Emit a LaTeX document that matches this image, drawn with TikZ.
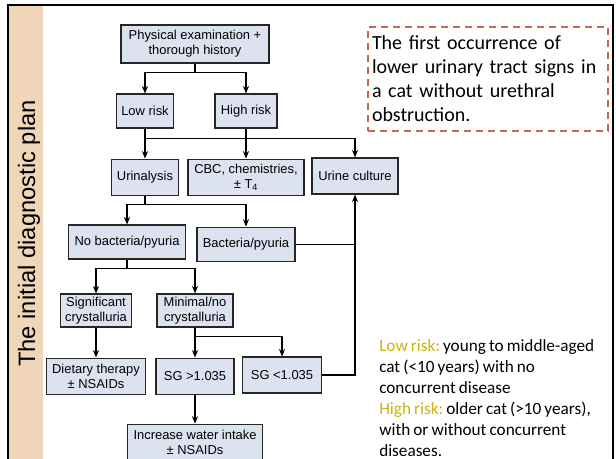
\documentclass[tikz,border=0pt]{standalone}
\usepackage{fontspec}
\setmainfont{Liberation Sans}
\newfontfamily\notefont{Carlito}[WordSpace=0.8]
\usetikzlibrary{positioning,arrows.meta,calc}
\definecolor{boxfill}{RGB}{221,226,240}
\definecolor{stripfill}{RGB}{239,214,185}
\definecolor{dashred}{RGB}{199,104,80}
\definecolor{riskgold}{RGB}{201,180,16}
\frenchspacing

\begin{document}
\begin{tikzpicture}[
  x=0.75pt, y=-0.75pt,
  >={Stealth[length=5.6pt,width=4.6pt]},
  stepbox/.style={
    rectangle, draw=black!85, line width=0.8pt,
    fill=boxfill, align=center, inner sep=1.5pt,
    font=\fontsize{9.7}{11.25}\selectfont,
  },
  line/.style={draw=black, line width=0.9pt},
  arr/.style={line, ->},
  notetext/.style={font=\notefont\fontsize{12.9}{15.75}\selectfont,
    align=left, inner sep=0pt},
]
\useasboundingbox (0,0) rectangle (616,459);
\clip (0,0) rectangle (616,459);

%---------- frame and side strip ----------
\fill[stripfill] (9,6) rectangle (43,475);
\draw[line width=1.2pt] (8,5) rectangle (613,475);
\node[rotate=90, anchor=base, inner sep=0pt,
  font=\fontsize{17.8}{20}\selectfont] (title) at (35,233.5)
  {The initial diagnostic plan};

%---------- flow boxes ----------
\node[stepbox, minimum width=111pt, minimum height=28.5pt] (phys) at (195,44)
  {Physical examination +\\thorough history};
\node[stepbox, minimum width=42.75pt, minimum height=25.5pt] (low) at (145,111)
  {Low risk};
\node[stepbox, minimum width=46.5pt, minimum height=25.5pt] (high) at (246,111)
  {High risk};

\node[stepbox, minimum width=50.25pt, minimum height=27pt, below=22.5pt of low] (urin)
  {Urinalysis};
\node[stepbox, minimum width=87pt, minimum height=27pt, below=22.5pt of high] (cbc)
  {CBC, chemistries,\\± T\textsubscript{4}};
\node[stepbox, minimum width=64.5pt, minimum height=27pt] (cult) at (355,176)
  {Urine culture};

\node[stepbox, minimum width=87.75pt, minimum height=25.5pt] (nobac) at (127,242)
  {No bacteria/pyuria};
\node[stepbox, minimum width=73.5pt, minimum height=25.5pt, below=23.25pt of cbc] (bac)
  {Bacteria/pyuria};

\node[stepbox, minimum width=53.25pt, minimum height=24.75pt] (sig) at (96,310.5)
  {Significant\\crystalluria};
\node[stepbox, minimum width=57pt, minimum height=24.75pt] (minimal) at (195,310.5)
  {Minimal/no\\crystalluria};

\node[stepbox, minimum width=74.25pt, minimum height=27pt, below=22.5pt of sig] (diet)
  {Dietary therapy\\± NSAIDs};
\node[stepbox, minimum width=58.5pt, minimum height=27pt, below=22.5pt of minimal] (sgg)
  {SG >1.035};
\node[stepbox, minimum width=59.25pt, minimum height=27pt] (sgl) at (282,375)
  {SG <1.035};
\node[stepbox, minimum width=101.25pt, minimum height=27pt, below=21.75pt of sgg] (water)
  {Increase water intake\\± NSAIDs};

%---------- connectors ----------
\coordinate (jphys) at ($(phys.south)+(0,9)$);
\draw[line] (phys.south) -- (jphys);
\foreach \dst in {low,high}{
  \draw[arr] (jphys) -| (\dst.north);
}
\coordinate (jrisk) at ($(low.south)+(0,10)$);
\draw[arr] (low.south) -- (urin.north);
\draw[arr] (high.south) -- (cbc.north);
\draw[arr] (jrisk) -| (cult.north);

\coordinate (jurin) at ($(urin.south)+(0,9)$);
\draw[line] (urin.south) -- (jurin);
\foreach \dst in {nobac,bac}{
  \draw[arr] (jurin) -| (\dst.north);
}
\coordinate (jnobac) at ($(nobac.south)+(0,9)$);
\draw[line] (nobac.south) -- (jnobac);
\foreach \dst in {sig,minimal}{
  \draw[arr] (jnobac) -| (\dst.north);
}
\draw[arr] (sig.south) -- (diet.north);
\coordinate (jmin) at ($(minimal.south)+(0,9)$);
\draw[arr] (minimal.south) -- (sgg.north);
\draw[arr] (jmin) -| (sgl.north);
\draw[arr] (sgg.south) -- (water.north);

\coordinate (jcult) at (cult.south |- bac.east);
\draw[arr] (bac.east) -| (cult.south);
\draw[line] (sgl.east) -| (jcult);

%---------- notes ----------
\node[draw=dashred, dash pattern=on 5.5pt off 3.5pt, line width=1.5pt,
  minimum width=180pt, minimum height=78pt, text width=174pt,
  align=left, inner xsep=3pt, inner ysep=4.5pt,
  font=\notefont\fontsize{15}{18}\selectfont] (case) at (488,79)
  {The first occurrence of\\lower urinary tract signs in\\a cat without urethral\\obstruction.};

\node[notetext, anchor=north west] (defs) at (379,339)
  {\textcolor{riskgold}{Low risk:} young to middle-aged\\
   cat (<10 years) with no\\
   concurrent disease\\
   \textcolor{riskgold}{High risk:} older cat (>10 years),\\
   with or without concurrent\\
   diseases.};

\end{tikzpicture}
\end{document}
